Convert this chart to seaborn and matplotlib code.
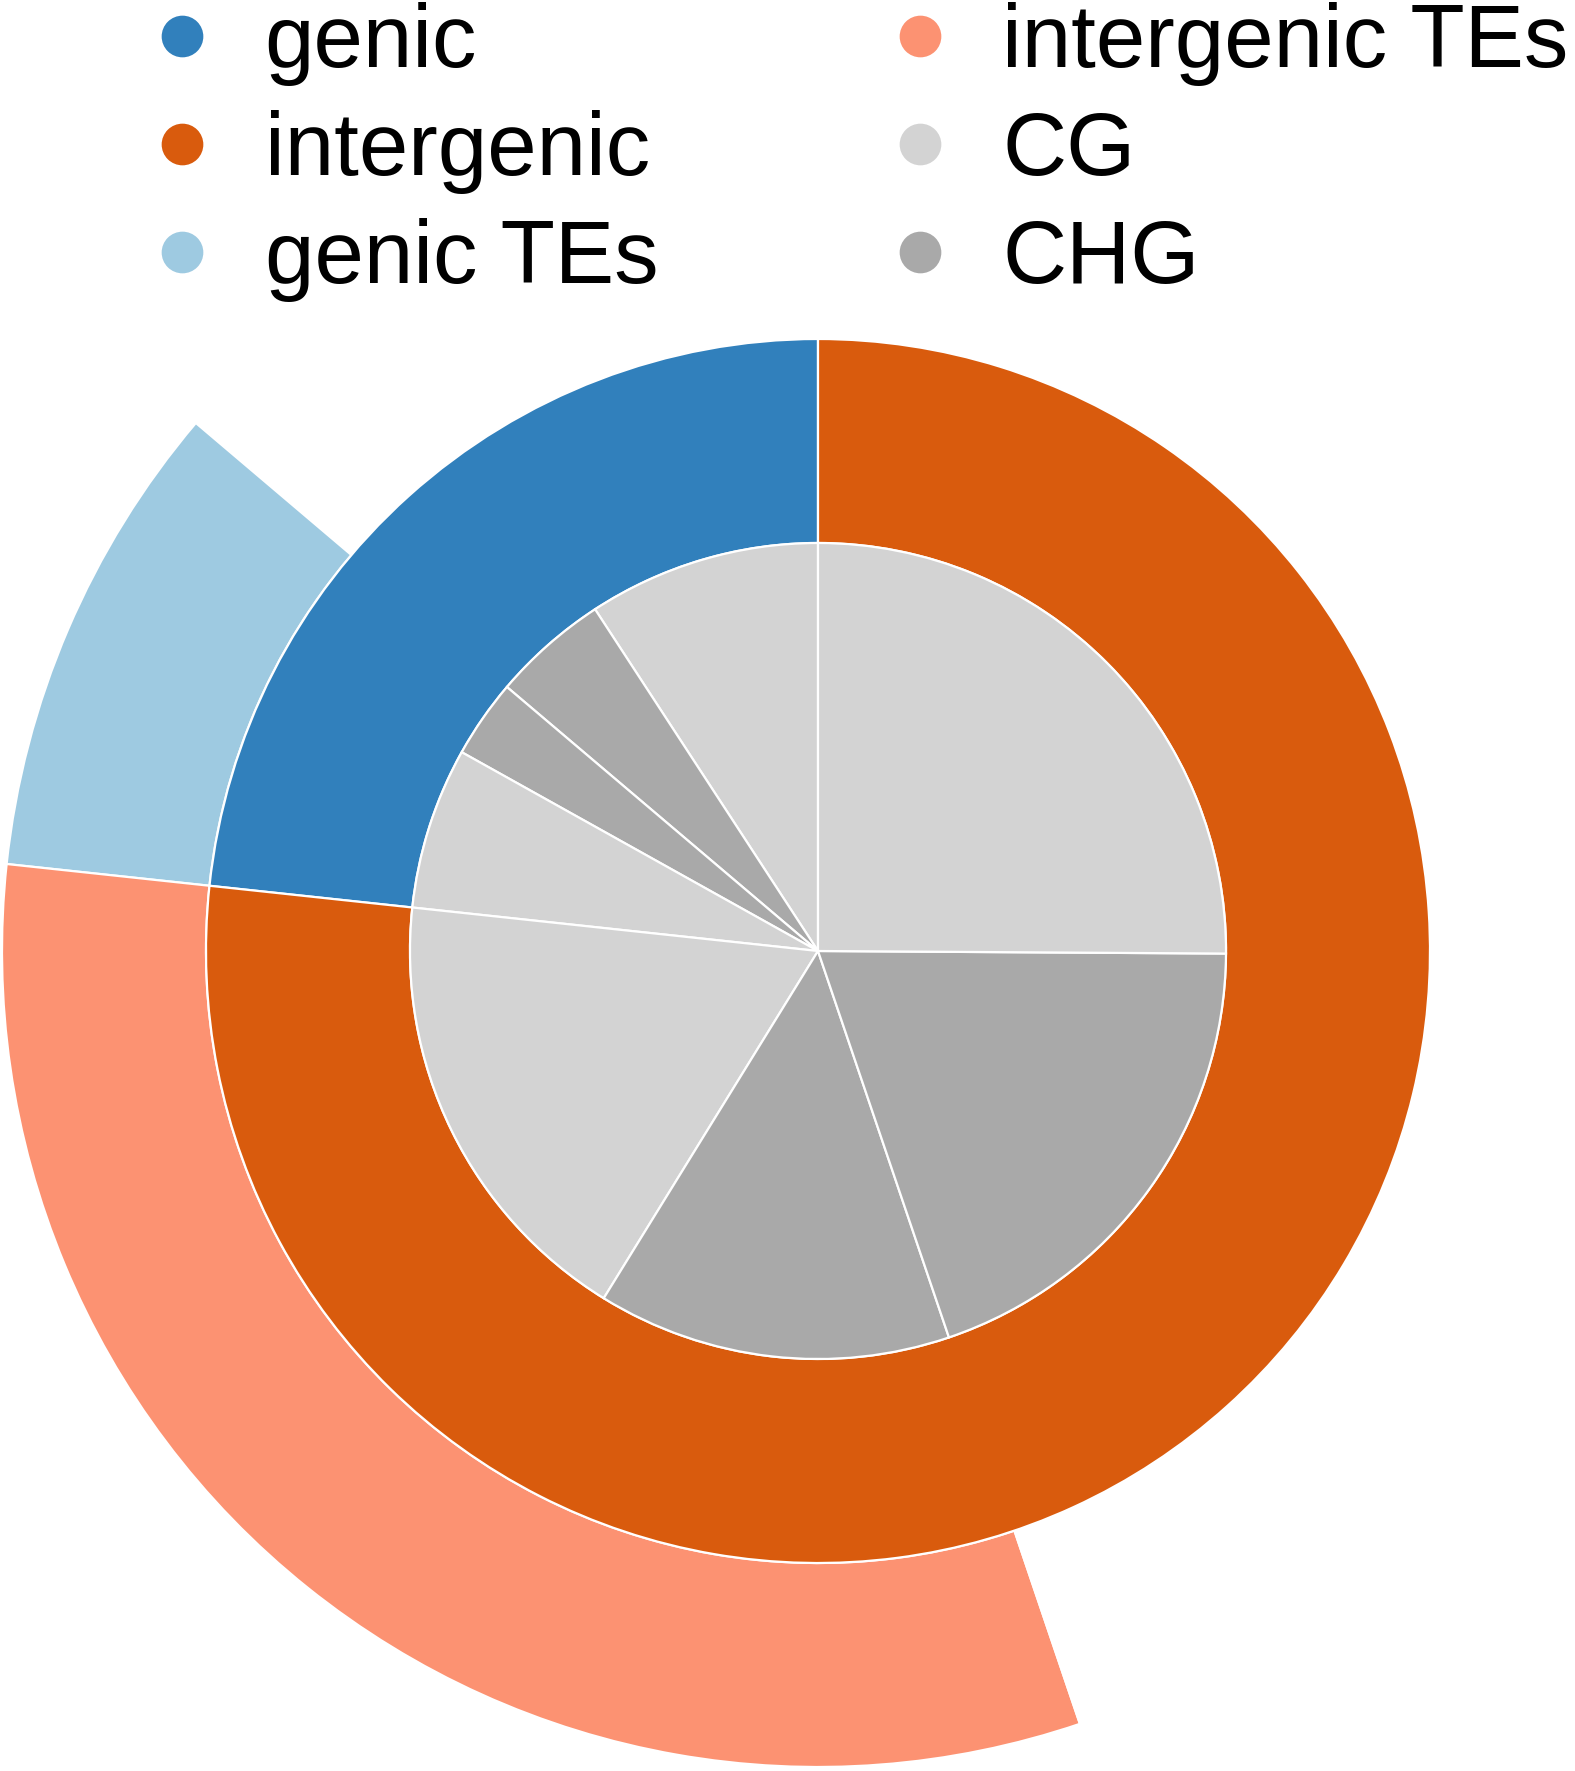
#!/usr/bin/env python3
"""Nested pie: methylation context split by genic / intergenic and TE overlap."""

import matplotlib
matplotlib.use("Agg")
import matplotlib.pyplot as plt
from matplotlib.lines import Line2D
import seaborn as sns

# inner pie: CG / CHG slices, counter-clockwise from 12 o'clock (percent)
inner_labels = ["CG", "CHG", "CHG", "CG", "CG", "CHG", "CHG", "CG"]
inner_values = [9.2, 4.6, 3.1, 6.4, 17.9, 14.0, 19.7, 25.1]

# middle ring: genic vs intergenic (percent)
middle_labels = ["genic", "intergenic"]
middle_values = [23.3, 76.7]

# outer ring: TE part of each region (blank parts are not drawn)
outer_labels = ["", "genic TEs", "intergenic TEs", ""]
outer_values = [13.8, 9.5, 31.9, 44.8]

legend_labels = ["genic", "intergenic", "genic TEs", "intergenic TEs", "CG", "CHG"]

colors = {
    "genic": "#3180bc",
    "intergenic": "#d95b0d",
    "genic TEs": "#9ecae1",
    "intergenic TEs": "#fc9272",
    "CG": "#d3d3d3",
    "CHG": "#a9a9a9",
    "": "none",
}

sns.set_style("white")
plt.rcParams["font.family"] = ["Liberation Sans", "DejaVu Sans"]
plt.rcParams["text.color"] = "black"

fig = plt.figure(figsize=(15.75, 17.71), dpi=100)
ax = fig.add_axes([2 / 1575, 4 / 1771, 1632 / 1575, 1632 / 1771])

wedge_kw = dict(edgecolor="white", linewidth=1.6)

ax.pie(outer_values, radius=1.0, startangle=90, counterclock=True,
       colors=[colors[l] for l in outer_labels],
       wedgeprops=dict(width=0.25, **wedge_kw))
ax.pie(middle_values, radius=0.75, startangle=90, counterclock=True,
       colors=[colors[l] for l in middle_labels],
       wedgeprops=dict(width=0.25, **wedge_kw))
ax.pie(inner_values, radius=0.5, startangle=90, counterclock=True,
       colors=[colors[l] for l in inner_labels],
       wedgeprops=wedge_kw)

ax.set_xlim(-1, 1)
ax.set_ylim(-1, 1)
ax.set_aspect("equal")
ax.axis("off")

handles = [Line2D([], [], marker="o", linestyle="none", markersize=30,
                  markerfacecolor=colors[l], markeredgecolor="none")
           for l in legend_labels]
fig.legend(handles, legend_labels, ncol=2, loc="upper left",
           bbox_to_anchor=(137.5 / 1575, 1 - 2 / 1771),
           frameon=False, fontsize=64, borderpad=0, borderaxespad=0,
           handlelength=1.0, handletextpad=0.43, columnspacing=2.44,
           labelspacing=0.27, labelcolor="black")

fig.savefig("out.png", dpi=100)
